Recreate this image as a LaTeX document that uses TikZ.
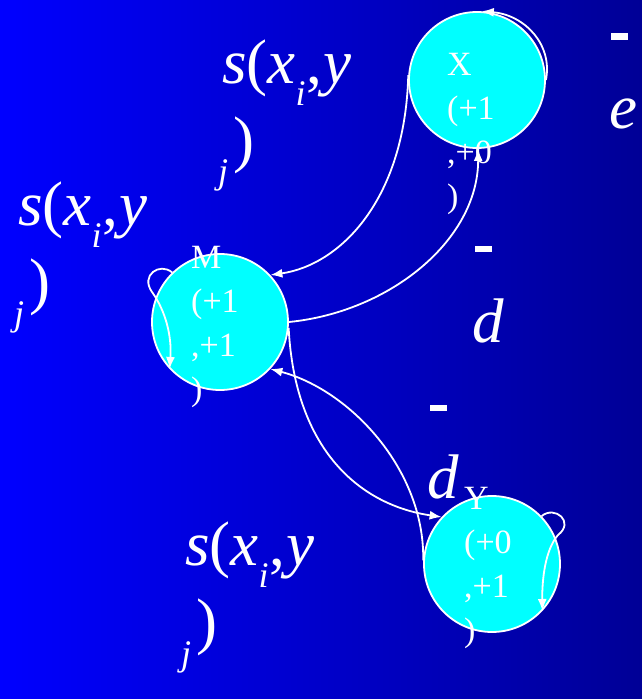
\documentclass[tikz,border=0pt]{standalone}
\usepackage{fontspec}
\setmainfont{Liberation Serif}
\usetikzlibrary{arrows.meta}
\definecolor{bgleft}{RGB}{0,0,255}
\definecolor{bgright}{RGB}{0,0,150}
\definecolor{statefill}{RGB}{0,255,255}
\newcommand\subfont{\fontsize{36}{36}\selectfont}
\newcommand\sxy{\textit{s}(\textit{x}\raisebox{-22pt}{\subfont\textit{i}}\kern1pt,\kern1pt\textit{y}}
\newcommand\jpar{\raisebox{-23pt}{\subfont\textit{j}}\kern5pt)}
\newcommand\simlbl[3]{%
  \node[lbl] (#1) at (#2,#3) {\sxy};
  \node[lbl] (#1j) at (#2-4,#3+77) {\jpar};}
\begin{document}
\begin{tikzpicture}[x=1pt,y=-1pt,
    state/.style={circle,draw=white,fill=statefill,line width=1.8pt,minimum size=136pt,inner sep=0pt},
    stxt/.style={text=white,font=\fontsize{34}{44}\selectfont,align=left,inner sep=0pt,anchor=north west},
    lbl/.style={text=white,font=\fontsize{63}{63}\selectfont,inner sep=0pt,anchor=base west},
    link/.style={draw=white,line width=1.8pt,-{Latex[length=12pt,width=9pt]}}]
  \shade[left color=bgleft,right color=bgright] (0,0) rectangle (642,699);
  \useasboundingbox (0,0) rectangle (642,699);
  % states
  \node[state] (X) at (477,80) {};
  \node[state] (M) at (220,322) {};
  \node[state] (Y) at (492,564) {};
  \node[stxt] (Xt) at (447,53.5) {X\\(+1\\,+0\\)};
  \node[stxt] (Mt) at (191,246.5) {M\\(+1\\,+1\\)};
  \node[stxt] (Yt) at (464,487.5) {Y\\(+0\\,+1\\)};
  % transitions
  \draw[link] (X.176) .. controls (405,200) and (340,265) .. (M.43);
  \draw[link] (M.0) .. controls (390,312) and (478,240) .. (X.-89);
  \draw[link] (M.-5) .. controls (295,450) and (360,505) .. (Y.137);
  \draw[link] (Y.177) .. controls (425,470) and (350,390) .. (M.-43);
  \draw[link] (X.0) .. controls (553,45) and (525,15) .. (X.86);
  \draw[link] (M.134) .. controls (160,262) and (140,275) .. (152,292)
    .. controls (165,310) and (172,335) .. (M.-137);
  \draw[link] (Y.44) .. controls (555,505) and (575,522) .. (558,535)
    .. controls (545,550) and (542,580) .. (Y.-43);
  % scores
  \simlbl{sX}{222}{83}
  \simlbl{sY}{18}{225}
  \simlbl{sM}{185}{565}
  \fill[white] (611,33) rectangle (628,40);
  \fill[white] (475,246) rectangle (492,252);
  \fill[white] (430,405) rectangle (447,411);
  \node[lbl] (e) at (609,128) {\textit{e}};
  \node[lbl] (d) at (472,342) {\textit{d}};
  \node[lbl] (dY) at (427,498) {\textit{d}};
\end{tikzpicture}
\end{document}
